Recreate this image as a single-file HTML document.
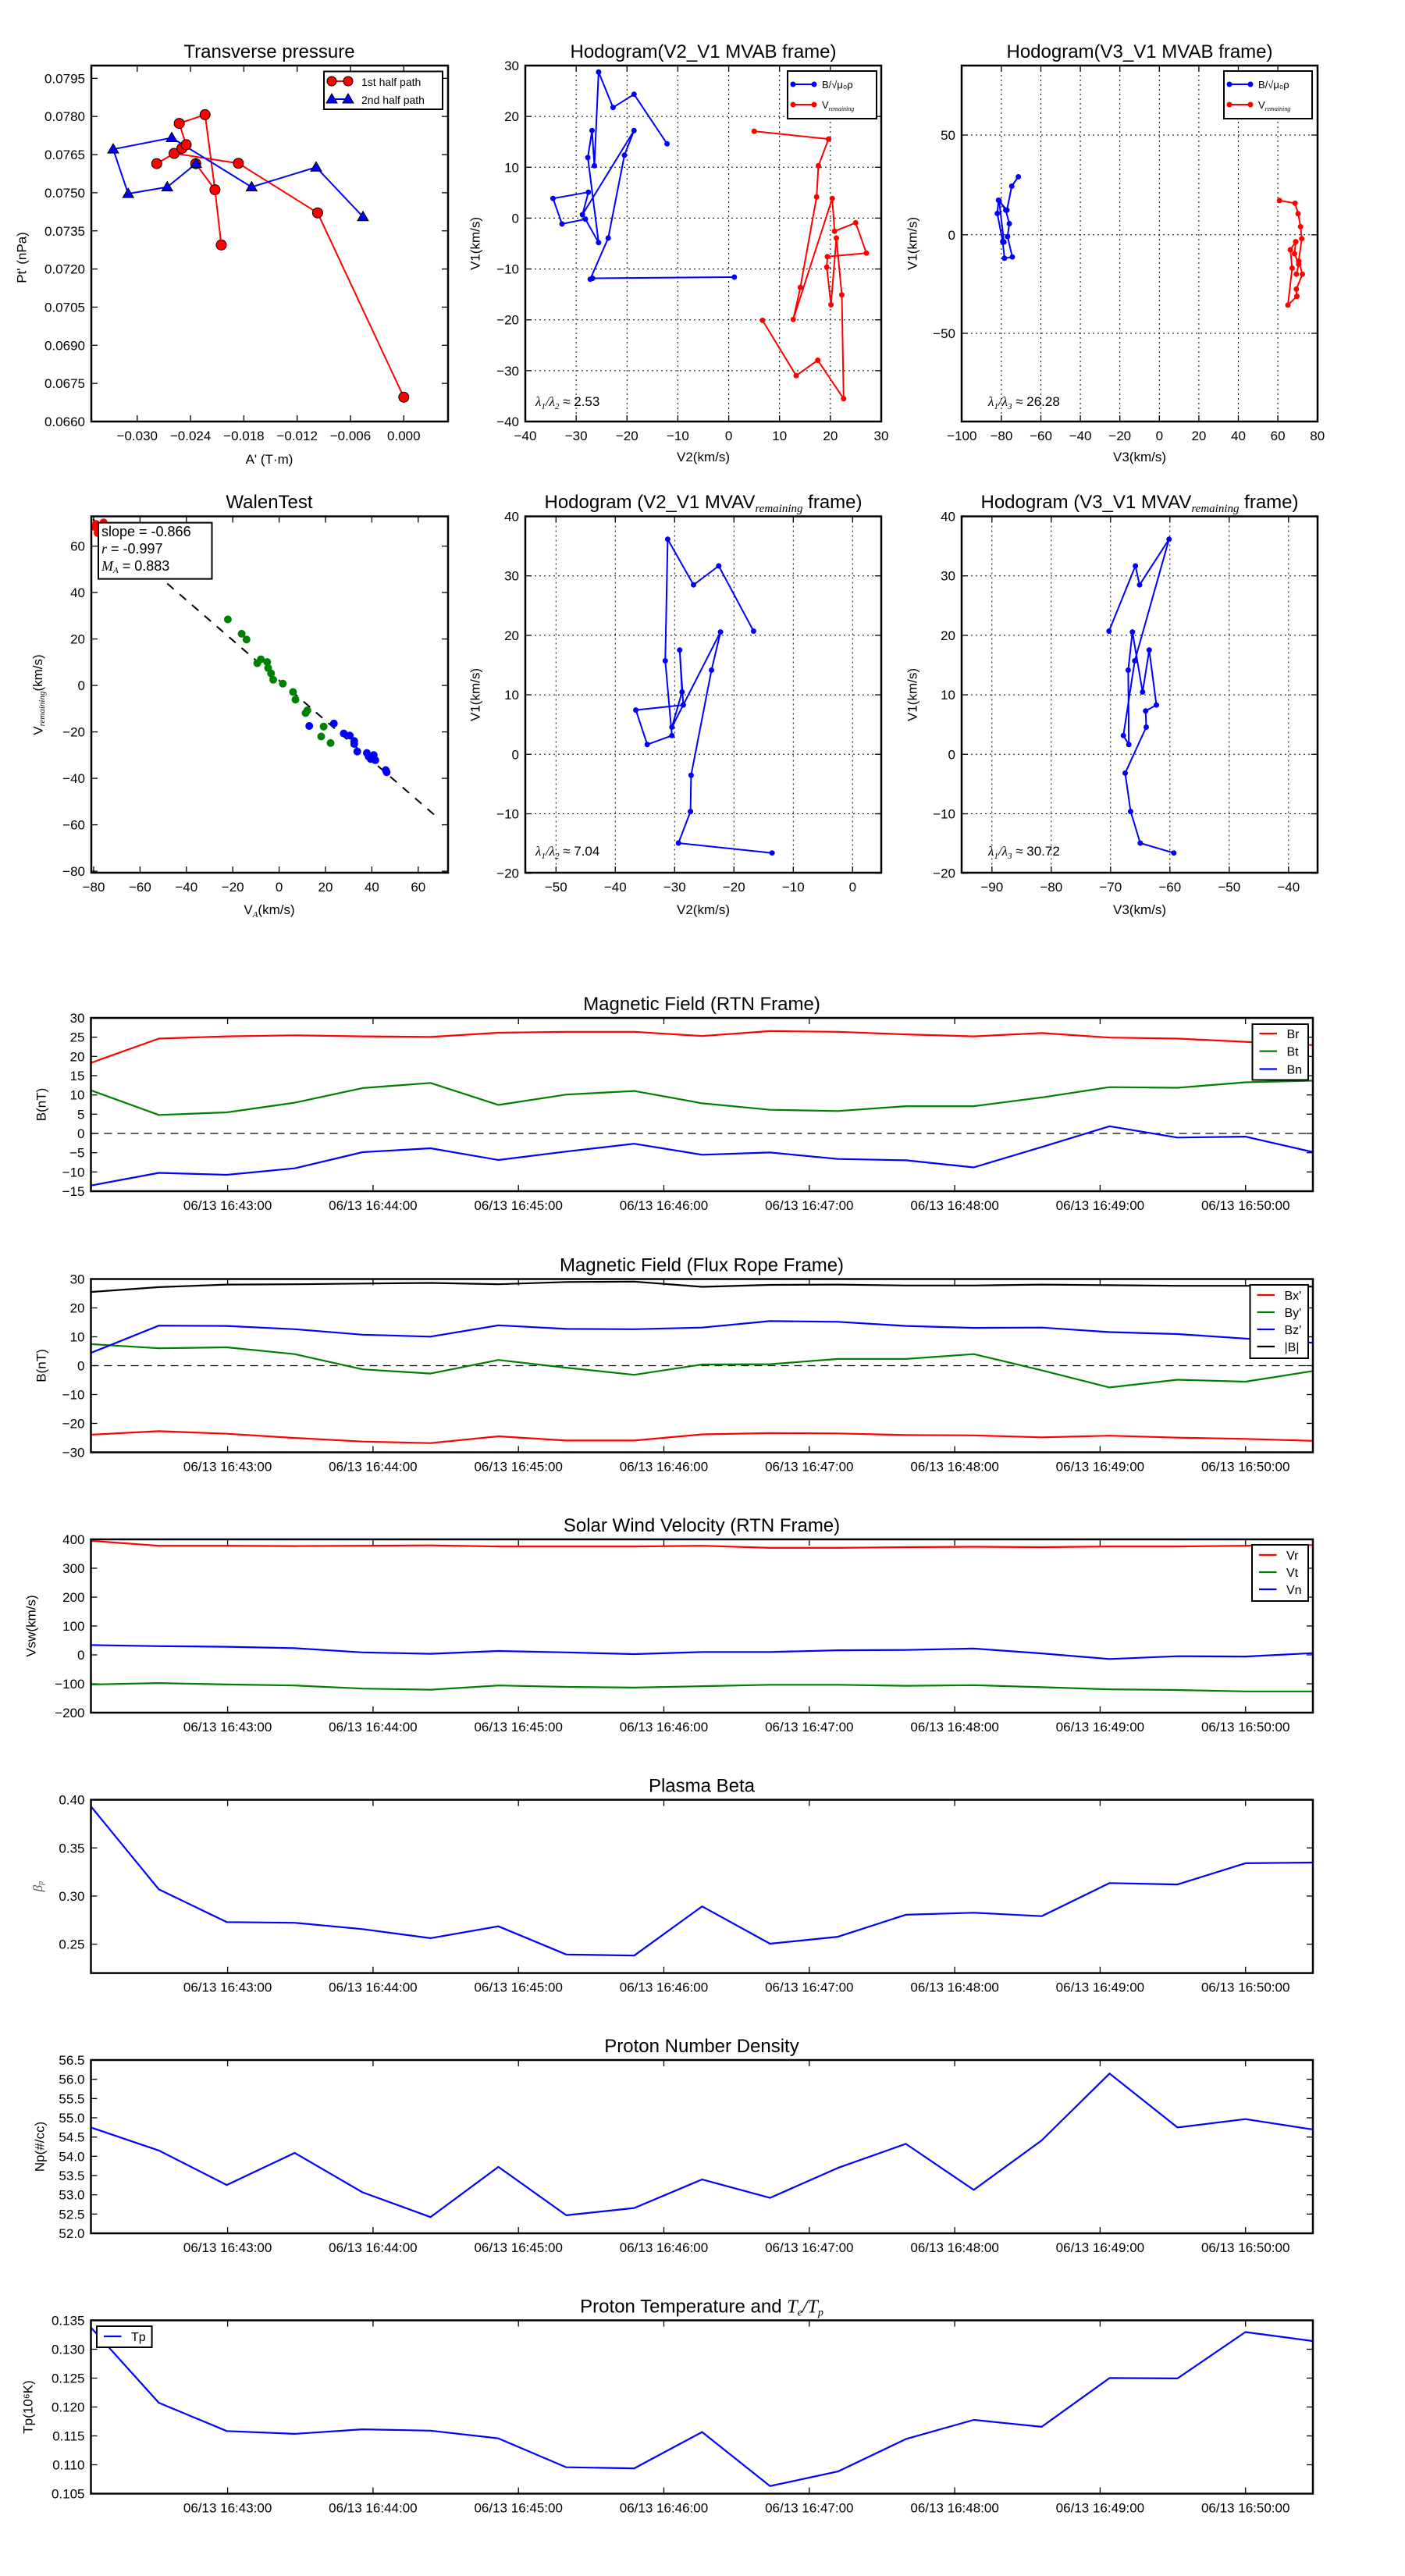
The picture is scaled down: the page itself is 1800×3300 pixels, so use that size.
<!DOCTYPE html>
<html><head><meta charset="utf-8">
<style>
html,body{margin:0;padding:0;background:#fff;}
svg{display:block;font-family:"Liberation Sans","DejaVu Sans",sans-serif;}
</style></head>
<body>
<svg id="s" width="1800" height="3300" viewBox="0 0 1800 3300" xmlns="http://www.w3.org/2000/svg"></svg>
<script>
var S=[];function add(s){S.push(s);}
function fmt(v,d){var s=Math.abs(v).toFixed(d);return (v<-1e-9?'\u2212':'')+s;}
function frame(l,t,r,b){add('<rect x="'+l+'" y="'+t+'" width="'+(r-l)+'" height="'+(b-t)+'" fill="none" stroke="#000" stroke-width="2.5"/>');}
function xt(t,b,x,lab,grid,fs){add('<line x1="'+x+'" y1="'+b+'" x2="'+x+'" y2="'+(b-8)+'" stroke="#000" stroke-width="1.3"/><line x1="'+x+'" y1="'+t+'" x2="'+x+'" y2="'+(t+8)+'" stroke="#000" stroke-width="1.3"/>');
 if(grid)add('<line x1="'+x+'" y1="'+t+'" x2="'+x+'" y2="'+b+'" stroke="#000" stroke-width="1" stroke-dasharray="2,4"/>');
 if(lab!==null)add('<text x="'+x+'" y="'+(b+24)+'" font-size="'+(fs||17)+'" text-anchor="middle">'+lab+'</text>');}
function yt(l,r,y,lab,grid){add('<line x1="'+l+'" y1="'+y+'" x2="'+(l+8)+'" y2="'+y+'" stroke="#000" stroke-width="1.3"/><line x1="'+r+'" y1="'+y+'" x2="'+(r-8)+'" y2="'+y+'" stroke="#000" stroke-width="1.3"/>');
 if(grid)add('<line x1="'+l+'" y1="'+y+'" x2="'+r+'" y2="'+y+'" stroke="#000" stroke-width="1" stroke-dasharray="2,4"/>');
 if(lab!==null)add('<text x="'+(l-8)+'" y="'+(y+6)+'" font-size="17" text-anchor="end">'+lab+'</text>');}
function title(x,y,t){add('<text x="'+x+'" y="'+y+'" font-size="24" text-anchor="middle">'+t+'</text>');}
function ylab(x,y,t,fs){add('<text transform="translate('+x+','+y+') rotate(-90)" font-size="'+(fs||17)+'" text-anchor="middle" dominant-baseline="middle">'+t+'</text>');}
function poly(pts,c,w){add('<polyline points="'+pts.map(function(p){return p[0].toFixed(1)+','+p[1].toFixed(1);}).join(' ')+'" fill="none" stroke="'+c+'" stroke-width="'+(w||2)+'" stroke-linejoin="round"/>');}
function dots(pts,c,r,st){pts.forEach(function(p){add('<circle cx="'+p[0].toFixed(1)+'" cy="'+p[1].toFixed(1)+'" r="'+r+'" fill="'+c+'"'+(st?' stroke="#000" stroke-width="1"':'')+'/>');});}
function tris(pts,c){pts.forEach(function(p){var x=p[0],y=p[1];add('<polygon points="'+x+','+(y-7)+' '+(x-7)+','+(y+5)+' '+(x+7)+','+(y+5)+'" fill="'+c+'" stroke="#000" stroke-width="1"/>');});}
function M(a,fx,fy){return a.map(function(p){return [fx(p[0]),fy(p[1])];});}
var BLEG='B/\u221a\u03bc\u2080\u03c1';

/* ===== Panel A ===== */
(function(){
var l=117,t=84,r=574,b=540;
title(345,74,'Transverse pressure');
var xs=['\u22120.030','\u22120.024','\u22120.018','\u22120.012','\u22120.006','0.000'];
for(var i=0;i<6;i++)xt(t,b,175.8+68.3*i,xs[i],false);
for(var i=0;i<10;i++)yt(l,r,540-48.85*i,(0.066+0.0015*i).toFixed(4),false);
ylab(29,330,"Pt' (nPa)");
add('<text x="345" y="594" font-size="17" text-anchor="middle">A\' (T\u00b7m)</text>');
var f=function(v){return v/2.6;};
var R1=M([[522,545],[580,511],[606,494],[620,482],[597,411],[683,382],[716,632],[737,816]],f,f);
var R2=M([[716,632],[652,545]],f,f);
var R3=M([[580,511],[794,544],[1058,709],[1345,1323]],f,f);
var B1=M([[1209,722],[1053,557],[838,623],[572,459],[377,497],[427,645],[557,623],[653,545]],f,f);
poly(R1,'red');poly(R2,'red');poly(R3,'red');poly(B1,'blue');
dots(M([[522,545],[580,511],[606,494],[620,482],[597,411],[683,382],[716,632],[737,816],[652,545],[794,544],[1058,709],[1345,1323]],f,f),'red',6.5,true);
tris(B1,'blue');
frame(l,t,r,b);
add('<rect x="415" y="91.5" width="152" height="48.5" fill="#fff" stroke="#000" stroke-width="2"/>');
poly([[425,104],[446,104]],'red');dots([[425,104],[446,104]],'red',6,true);
poly([[425,127],[446,127]],'blue');tris([[425,127],[446,127]],'blue');
add('<text x="463" y="110" font-size="14">1st half path</text><text x="463" y="133" font-size="14">2nd half path</text>');
})();

/* ===== Panel B ===== */
(function(){
var l=673,t=84,r=1129,b=540;
title(901,74,'Hodogram(V2_V1 MVAB frame)');
for(var v=-40;v<=30;v+=10){var x=l+(v+40)/70*456;xt(t,b,x,fmt(v,0),v>-40&&v<30);}
for(var v=-40;v<=30;v+=10){var y=b-(v+40)/70*456;yt(l,r,y,fmt(v,0),v>-40&&v<30);}
ylab(610,312,'V1(km/s)');
add('<text x="901" y="591" font-size="17" text-anchor="middle">V2(km/s)</text>');
var fx=function(v){return 600+v/1.3;},fy=function(v){return v/2.6;};
var Bp=M([[331,479],[276,314],[241,358],[217,240],[210,552],[206,435],[199,525],[217,808],[195,730],[156,746],[141,661],[200,640],[190,715],[276,435],[260,517],[233,793],[203,930],[207,927],[443,923]],fx,fy);
var Rp=M([[476,437],[600,463],[583,552],[580,656],[553,957],[541,1064],[606,661],[610,770],[645,742],[663,843],[598,855],[597,890],[604,1015],[613,793],[622,982],[625,1328],[582,1200],[546,1251],[490,1067]],fx,fy);
poly(Bp,'blue');dots(Bp,'blue',3.5);poly(Rp,'red');dots(Rp,'red',3.5);
add('<text x="686" y="520" font-size="17" font-family="Liberation Serif,serif" font-style="italic">\u03bb<tspan font-size="11" dy="4">1</tspan><tspan dy="-4">/\u03bb</tspan><tspan font-size="11" dy="4">2</tspan><tspan dy="-4" font-style="normal" font-family="Liberation Sans,sans-serif"> \u2248 2.53</tspan></text>');
frame(l,t,r,b);
add('<rect x="1009" y="91" width="114" height="61" fill="#fff" stroke="#000" stroke-width="2"/>');
poly([[1016,108],[1043,108]],'blue');dots([[1016,108],[1043,108]],'blue',3.5);
poly([[1016,134],[1043,134]],'red');dots([[1016,134],[1043,134]],'red',3.5);
add('<text x="1053" y="113" font-size="13">'+BLEG+'</text>');
add('<text x="1053" y="139" font-size="13">V<tspan font-size="8" dy="3" font-style="italic" font-family="Liberation Serif,serif">remaining</tspan></text>');
})();

/* ===== Panel C ===== */
(function(){
var l=1232,t=84,r=1688,b=540;
title(1460,74,'Hodogram(V3_V1 MVAB frame)');
for(var v=-100;v<=80;v+=20){var x=1232.3+(v+100)*(455.4/180);xt(t,b,x,fmt(v,0),v>-100&&v<80);}
[[50,173],[0,300.8],[-50,427]].forEach(function(a){yt(l,r,a[1],fmt(a[0],0),true);});
ylab(1170,312,'V1(km/s)');
add('<text x="1460" y="591" font-size="17" text-anchor="middle">V3(km/s)</text>');
var fx=function(v){return 600+v/1.3;},fy=function(v){return v/2.6;};
var Bp=M([[916,589],[905,620],[897,700],[883,667],[881,711],[890,805],[893,860],[906,856],[898,788],[901,745],[895,700],[884,668],[892,806]],fx,fy);
var Rp=M([[1351,668],[1377,677],[1382,712],[1386,755],[1388,795],[1383,870],[1389,913],[1379,963],[1380,987],[1365,1016],[1372,893],[1369,832],[1378,805],[1376,845],[1383,880],[1379,913]],fx,fy);
poly(Bp,'blue');dots(Bp,'blue',3.5);poly(Rp,'red');dots(Rp,'red',3.5);
add('<text x="1266" y="520" font-size="17" font-family="Liberation Serif,serif" font-style="italic">\u03bb<tspan font-size="11" dy="4">1</tspan><tspan dy="-4">/\u03bb</tspan><tspan font-size="11" dy="4">3</tspan><tspan dy="-4" font-style="normal" font-family="Liberation Sans,sans-serif"> \u2248 26.28</tspan></text>');
frame(l,t,r,b);
add('<rect x="1568" y="91" width="113" height="61" fill="#fff" stroke="#000" stroke-width="2"/>');
poly([[1575,108],[1602,108]],'blue');dots([[1575,108],[1602,108]],'blue',3.5);
poly([[1575,134],[1602,134]],'red');dots([[1575,134],[1602,134]],'red',3.5);
add('<text x="1612" y="113" font-size="13">'+BLEG+'</text>');
add('<text x="1612" y="139" font-size="13">V<tspan font-size="8" dy="3" font-style="italic" font-family="Liberation Serif,serif">remaining</tspan></text>');
})();

/* ===== Walen ===== */
(function(){
var l=117,t=661.5,r=574,b=1118;
title(345,651,'WalenTest');
for(var v=-80;v<=60;v+=20)xt(t,b,120+(v+80)*2.97,fmt(v,0),false);
for(var v=-80;v<=60;v+=20)yt(l,r,699.6+(60-v)*2.975,fmt(v,0),false);
add('<text transform="translate(50,890) rotate(-90)" font-size="17" text-anchor="middle" dominant-baseline="middle">V<tspan font-size="11" dy="4" font-style="italic" font-family="Liberation Serif,serif">remaining</tspan><tspan dy="-4">(km/s)</tspan></text>');
add('<text x="345" y="1171" font-size="17" text-anchor="middle">V<tspan font-size="11" dy="4" font-style="italic" font-family="Liberation Serif,serif">A</tspan><tspan dy="-4">(km/s)</tspan></text>');
add('<line x1="119" y1="665" x2="563.5" y2="1050" stroke="#000" stroke-width="2" stroke-dasharray="11,10"/>');
var fx=function(v){return v/2.6;},fy=function(v){return 600+v/2.6;};
dots(M([[759,503],[805,551],[821,570],[857,649],[869,636],[890,645],[893,665],[903,683],[910,704],[942,717],[976,745],[984,770],[1018,815],[1024,806],[1070,893],[1078,860],[1101,915]],fx,fy),'green',5);
dots(M([[1030,858],[1112,850],[1145,883],[1165,890],[1180,908],[1180,918],[1190,943],[1222,948],[1235,968],[1245,955],[1250,972],[1228,960],[1285,1005],[1288,1012]],fx,fy),'blue',5);
add('<clipPath id="wc"><rect x="117" y="661.5" width="457" height="456.5"/></clipPath>');
add('<g clip-path="url(#wc)">');
dots(M([[320,185],[335,200],[345,180],[325,215],[315,195],[350,190]],fx,fy),'red',5);
add('</g>');
frame(l,t,r,b);
add('<rect x="126" y="669.6" width="145.5" height="72" fill="#fff" stroke="#000" stroke-width="2"/>');
add('<text x="130" y="687" font-size="18">slope = -0.866</text>');
add('<text x="130" y="709" font-size="18"><tspan font-style="italic" font-family="Liberation Serif,serif">r</tspan> = -0.997</text>');
add('<text x="130" y="731" font-size="18"><tspan font-style="italic" font-family="Liberation Serif,serif">M<tspan font-size="11" dy="3">A</tspan></tspan><tspan dy="-3"> = 0.883</tspan></text>');
})();

/* ===== MVAV hodograms ===== */
(function(){
var t=661.5,b=1118;
add('<text x="901" y="651" font-size="24" text-anchor="middle">Hodogram (V2_V1 MVAV<tspan font-size="15" dy="5" font-style="italic" font-family="Liberation Serif,serif">remaining</tspan><tspan dy="-5"> frame)</tspan></text>');
add('<text x="1460" y="651" font-size="24" text-anchor="middle">Hodogram (V3_V1 MVAV<tspan font-size="15" dy="5" font-style="italic" font-family="Liberation Serif,serif">remaining</tspan><tspan dy="-5"> frame)</tspan></text>');
for(var v=-50;v<=0;v+=10)xt(t,b,712.3+(v+50)*7.6,fmt(v,0),true);
for(var v=-90;v<=-40;v+=10)xt(t,b,1270.8+(v+90)*7.6,fmt(v,0),true);
for(var v=-20;v<=40;v+=10){var y=661.5+(40-v)*7.62;yt(673,1129,y,fmt(v,0),v>-20&&v<40);yt(1232,1688,y,fmt(v,0),v>-20&&v<40);}
ylab(610,890,'V1(km/s)');ylab(1170,890,'V1(km/s)');
add('<text x="901" y="1171" font-size="17" text-anchor="middle">V2(km/s)</text><text x="1460" y="1171" font-size="17" text-anchor="middle">V3(km/s)</text>');
var fx=function(v){return 600+v/1.3;},fy=function(v){return 600+v/2.6;};
var P2=M([[475,542],[417,325],[375,388],[332,236],[328,641],[339,890],[298,920],[279,805],[358,788],[352,605],[356,745],[339,862],[420,545],[405,672],[371,1022],[370,1143],[350,1248],[506,1281]],fx,fy);
var P3=M([[1067,542],[1111,325],[1118,388],[1167,236],[1110,641],[1091,890],[1100,920],[1099,672],[1106,545],[1123,745],[1134,605],[1146,788],[1128,808],[1129,862],[1094,1015],[1103,1143],[1119,1248],[1175,1281]],fx,fy);
poly(P2,'blue');dots(P2,'blue',3.5);poly(P3,'blue');dots(P3,'blue',3.5);
add('<text x="686" y="1096" font-size="17" font-family="Liberation Serif,serif" font-style="italic">\u03bb<tspan font-size="11" dy="4">1</tspan><tspan dy="-4">/\u03bb</tspan><tspan font-size="11" dy="4">2</tspan><tspan dy="-4" font-style="normal" font-family="Liberation Sans,sans-serif"> \u2248 7.04</tspan></text>');
add('<text x="1266" y="1096" font-size="17" font-family="Liberation Serif,serif" font-style="italic">\u03bb<tspan font-size="11" dy="4">1</tspan><tspan dy="-4">/\u03bb</tspan><tspan font-size="11" dy="4">3</tspan><tspan dy="-4" font-style="normal" font-family="Liberation Sans,sans-serif"> \u2248 30.72</tspan></text>');
frame(673,t,1129,b);frame(1232,t,1688,b);
})();

/* ===== Time series ===== */
var L=116.5,R=1682;
var P=[
{top:1304,lo:-15,hi:30,st:5,d:0,ttl:'Magnetic Field (RTN Frame)',yl:'B(nT)',ylx:54,zero:true,y0:1260,f:2.412,
 s:[['red',[245,170,163,160,163,165,152,149,149,162,147,149,157,163,153,167,170,180,190]],
    ['green',[330,406,398,368,323,307,375,343,332,370,390,394,379,379,352,320,322,305,300]],
    ['blue',[624,585,591,571,521,509,545,519,495,529,522,542,546,568,505,441,476,473,521]]],
 leg:{x:1604.5,y:1312,w:71.5,h:71.5,items:[['red','Br',1324],['green','Bt',1346.6],['blue','Bn',1369.5]]}},
{top:1638.5,lo:-30,hi:30,st:10,d:0,ttl:'Magnetic Field (Flux Rope Frame)',yl:'B(nT)',ylx:54,zero:true,y0:1260,f:2.412,
 s:[['red',[1394,1383,1391,1404,1415,1420,1399,1412,1412,1393,1389,1390,1395,1396,1402,1397,1403,1407,1413]],
    ['green',[1114,1127,1124,1145,1192,1205,1163,1187,1209,1177,1176,1160,1160,1145,1195,1248,1224,1230,1197]],
    ['blue',[1141,1057,1058,1068,1085,1091,1056,1067,1068,1063,1043,1045,1058,1064,1063,1077,1083,1097,1110]],
    ['black',[953,938,930,929,927,925,929,922,921,937,931,930,933,933,930,932,934,934,936]]],
 leg:{x:1601.5,y:1646,w:74.5,h:94,items:[['red',"Bx'",1659],['green',"By'",1681],['blue',"Bz'",1703],['black','|B|',1725]]}},
{top:1972,lo:-200,hi:400,st:100,d:0,ttl:'Solar Wind Velocity (RTN Frame)',yl:'Vsw(km/s)',ylx:41,y0:1940,f:2.24,
 s:[['red',[76,90,90,91,90,89,92,92,92,90,96,96,94,93,94,92,92,90,88]],
    ['green',[488,484,488,491,500,503,491,495,497,493,489,489,492,490,496,502,504,508,508]],
    ['blue',[375,378,380,384,396,400,392,396,401,395,395,390,389,385,399,415,407,408,398]]],
 leg:{x:1604,y:1979,w:72,h:72,items:[['red','Vr',1992],['green','Vt',2014],['blue','Vn',2036]]}},
{top:2305.6,lo:0.22,hi:0.40,st:0.05,t0:0.25,d:2,ttl:'Plasma Beta',yl:'<tspan font-style="italic" font-family="Liberation Serif,serif">\u03b2<tspan font-size="10" dy="3">p</tspan></tspan>',ylx:50,ylc:'#555',y0:1940,f:2.24,
 s:[['blue',[838,1076,1170,1172,1190,1216,1182,1263,1266,1125,1232,1212,1149,1143,1153,1058,1062,1001,999]]]},
{top:2639,lo:52,hi:56.5,st:0.5,d:1,ttl:'Proton Number Density',yl:'Np(#/cc)',ylx:52,y0:2600,f:2.24,
 s:[['blue',[281,347,446,354,467,538,394,533,512,430,483,397,328,460,318,126,281,257,287]]]},
{top:2972.5,lo:0.105,hi:0.135,st:0.005,d:3,ttl:'Proton Temperature and <tspan font-style="italic" font-family="Liberation Serif,serif">T<tspan font-size="14" dy="4">e</tspan><tspan dy="-4">/T</tspan><tspan font-size="14" dy="4">p</tspan></tspan>',yl:'Tp(10\u2076K)',ylx:37,y0:2600,f:2.24,
 s:[['blue',[855,1071,1152,1160,1147,1151,1173,1256,1259,1155,1310,1268,1175,1120,1140,1000,1001,868,894]]],
 leg:{x:124,y:2980,w:70.6,h:27,items:[['blue','Tp',2993]]}}
];
P.forEach(function(p){
 var t=p.top,b=t+222;
 var Y=function(v){return b-(v-p.lo)/(p.hi-p.lo)*222;};
 title(899,t-10,p.ttl);
 for(var i=0;i<8;i++){var x=291.6+186.3*i;xt(t,b,x,'06/13 16:'+(43+i)+':00',false);}
 var v0=p.t0!==undefined?p.t0:p.lo;
 for(var v=v0;v<=p.hi+1e-9;v+=p.st){yt(L,R,Y(v),fmt(v,p.d),false);}
 add('<text transform="translate('+p.ylx+','+(t+111)+') rotate(-90)" font-size="17" text-anchor="middle" dominant-baseline="middle"'+(p.ylc?' fill="'+p.ylc+'"':'')+'>'+p.yl+'</text>');
 if(p.zero)add('<line x1="'+L+'" y1="'+Y(0)+'" x2="'+R+'" y2="'+Y(0)+'" stroke="#000" stroke-width="1.3" stroke-dasharray="10,7"/>');
 p.s.forEach(function(s){var pts=s[1].map(function(zy,k){return [L+87*k,p.y0+zy/p.f];});poly(pts,s[0],2.2);});
 frame(L,t,R,b);
 if(p.leg){var g=p.leg;add('<rect x="'+g.x+'" y="'+g.y+'" width="'+g.w+'" height="'+g.h+'" fill="#fff" stroke="#000" stroke-width="2"/>');
  g.items.forEach(function(it){poly([[g.x+9,it[2]],[g.x+31.5,it[2]]],it[0],2.2);add('<text x="'+(g.x+44)+'" y="'+(it[2]+6)+'" font-size="16">'+it[1]+'</text>');});}
});
document.getElementById('s').innerHTML=S.join('');
</script>
</body></html>
